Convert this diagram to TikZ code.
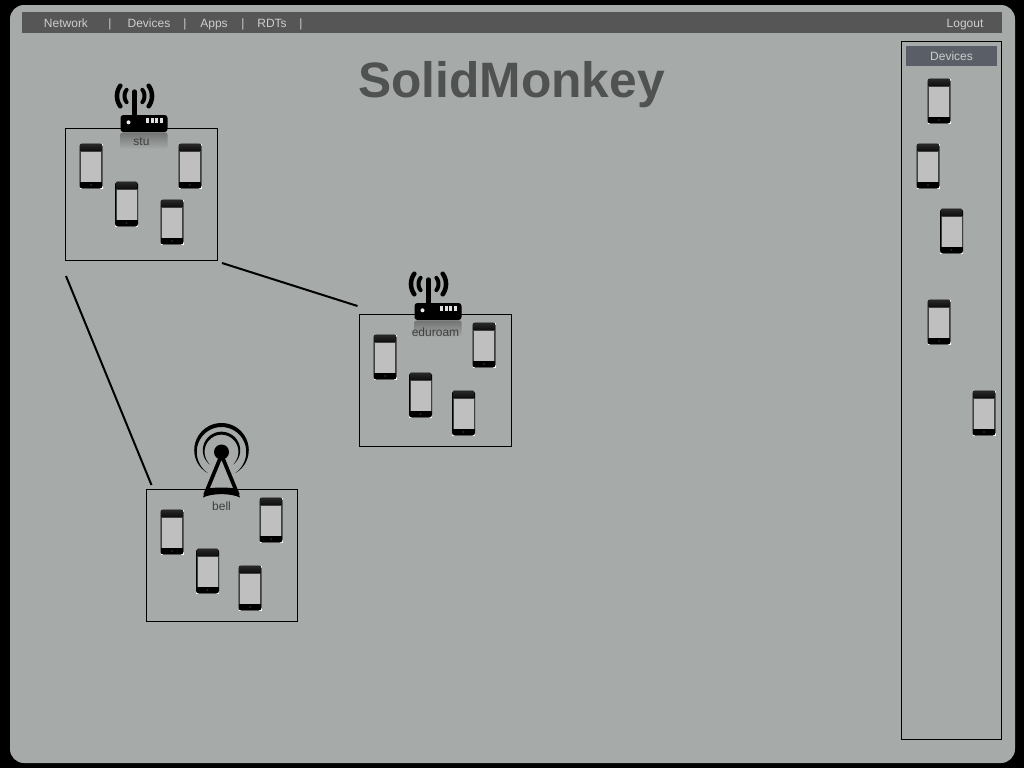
\documentclass[tikz,border=0pt]{standalone}
\usepackage{fontspec}
\setmainfont{Liberation Sans}
\definecolor{bgc}{HTML}{A6AAA8}
\definecolor{barc}{HTML}{555655}
\definecolor{headc}{HTML}{5A5E66}
\definecolor{lightt}{HTML}{CDCFCE}
\definecolor{labelc}{HTML}{3E4040}
\definecolor{titlec}{HTML}{505251}
\newcommand{\crescent}[6]{% cx cy R w a b
  \fill[black] plot[domain=#5:#6,samples=50,smooth] ({#1+(#3+#4*0.5*(1-((\x-(#5+#6)*0.5)/((#6-#5)*0.5))*((\x-(#5+#6)*0.5)/((#6-#5)*0.5))))*cos(\x)},{#2-(#3+#4*0.5*(1-((\x-(#5+#6)*0.5)/((#6-#5)*0.5))*((\x-(#5+#6)*0.5)/((#6-#5)*0.5))))*sin(\x)})
  -- plot[domain=#6:#5,samples=50,smooth] ({#1+(#3-#4*0.5*(1-((\x-(#5+#6)*0.5)/((#6-#5)*0.5))*((\x-(#5+#6)*0.5)/((#6-#5)*0.5))))*cos(\x)},{#2-(#3-#4*0.5*(1-((\x-(#5+#6)*0.5)/((#6-#5)*0.5))*((\x-(#5+#6)*0.5)/((#6-#5)*0.5))))*sin(\x)}) -- cycle;}
\tikzset{
  menuitem/.style={anchor=base,inner sep=0pt,text=lightt,font=\fontsize{9}{9}\selectfont},
  netlabel/.style={anchor=base,inner sep=0pt,text=labelc,font=\fontsize{9}{9}\selectfont},
  netbox/.style={draw=black,line width=0.75pt,inner sep=0pt,minimum width=113.6pt,minimum height=99pt},
  link/.style={draw=black,line width=1.5pt},
  pics/phone/.style={code={
    \fill[white] (-11.5,-22.5) rectangle (11.5,22.5);
    \fill[black,rounded corners=2pt] (-11.5,-22.5) rectangle (11.5,22.5);
    \shade[top color=black!85!white,bottom color=black!95!white] (-10.5,-21.5) rectangle (10.5,-15);
    \fill[black!75!white] (-11,-15) rectangle (11,15.5);
    \fill[black!25!white] (-10,-14.5) rectangle (10,15.5);
    \fill[black!85!white] (0,19) circle (1.2);
  }},
  pics/router/.style={code={
    % origin: centre of the body's top edge
    \shade[top color=black!32!bgc,bottom color=bgc,rounded corners=1.5pt] (-23.5,17.5) rectangle (23.5,34);
    \draw[black,line width=3.2pt,line cap=round] (-9.5,-23.5) -- (-9.5,0);
    \fill[black,rounded corners=2.2pt] (-23.5,0) rectangle (23.5,17);
    \fill[black!8!white] (-15.5,7.3) circle (2);
    \foreach \q in {2,6.5,11,15.5}{\fill[black!12!white] (\q,2.5) rectangle ++(3,5);}
    \draw[black,line width=3pt,line cap=round] plot[domain=142:218,samples=20,smooth] ({-9.5+10*cos(\x)},{-19-10*sin(\x)});
    \draw[black,line width=3pt,line cap=round] plot[domain=-38:38,samples=20,smooth] ({-9.5+10*cos(\x)},{-19-10*sin(\x)});
    \draw[black,line width=3.4pt,line cap=round] plot[domain=144:216,samples=20,smooth] ({-9.5+17.5*cos(\x)},{-19-17.5*sin(\x)});
    \draw[black,line width=3.4pt,line cap=round] plot[domain=-36:36,samples=20,smooth] ({-9.5+17.5*cos(\x)},{-19-17.5*sin(\x)});
  }}
}
\begin{document}
\begin{tikzpicture}[x=0.75pt,y=-0.75pt]
\useasboundingbox (0,0) rectangle (1024,768);
\fill[black] (0,0) rectangle (1024,768);
\fill[bgc,rounded corners=10.5pt] (10,5) rectangle (1015,763);
\fill[barc] (22,12) rectangle (1002,33);
% menu
\node[menuitem] (mnet) at (66,27) {Network};
\node[menuitem] (ms1) at (110,27) {|};
\node[menuitem] (mdev) at (149,27) {Devices};
\node[menuitem] (ms2) at (185,27) {|};
\node[menuitem] (mapp) at (214,27) {Apps};
\node[menuitem] (ms3) at (243,27) {|};
\node[menuitem] (mrdt) at (272,27) {RDTs};
\node[menuitem] (ms4) at (301,27) {|};
\node[menuitem] (mlog) at (965,27) {Logout};
% title
\node[anchor=base,inner sep=0pt,text=titlec,font=\fontsize{37.3}{38}\selectfont\bfseries] (title) at (511.5,97.5) {SolidMonkey};
% side panel
\node[draw=black,line width=0.75pt,inner sep=0pt,minimum width=74.6pt,minimum height=523.5pt] (panel) at (951.5,390.5) {};
\fill[headc] (906,46) rectangle (997,66);
\node[menuitem] (phead) at (951.5,60) {Devices};
\foreach \px/\py in {939/101,928/166,951.5/231,939/322,984/413}{\pic at (\px,\py) {phone};}
% network boxes
\node[netbox] (stu) at (141.4,194.5) {};
\node[netbox] (eduroam) at (435.4,380.5) {};
\node[netbox] (bell) at (222,555.5) {};
% connectors
\coordinate (a1) at (222,263);
\coordinate (a2) at (357.5,306);
\coordinate (b1) at (66,276);
\coordinate (b2) at (151.5,485);
\draw[link] (a1) -- (a2);
\draw[link] (b1) -- (b2);
% phones in boxes
\foreach \px/\py in {91/166,190/166,126.5/204,172/222,385/357,484/345,420.5/395,463.5/413,172/532,271/520,207.5/571,250/588}{\pic at (\px,\py) {phone};}
% routers
\pic at (144,115) {router};
\pic at (438,303) {router};
% tower
\crescent{221.5}{451}{26}{4}{-58}{238}
\crescent{221.5}{451}{17.8}{3}{-50}{230}
\draw[black,line width=2.8pt,line join=miter] (205,495) -- (221.5,455) -- (238,495);
\fill[black] (221.5,452) circle (7.5);
\fill[black] (203,497.5) .. controls (212,493) and (231,493) .. (240,497.5) -- (237,489) .. controls (229,487) and (214,487) .. (206,489) -- cycle;
% labels
\node[netlabel] (lstu) at (141.5,145) {stu};
\node[netlabel] (ledu) at (435.5,336) {eduroam};
\node[netlabel] (lbell) at (221.5,510) {bell};
\end{tikzpicture}
\end{document}
